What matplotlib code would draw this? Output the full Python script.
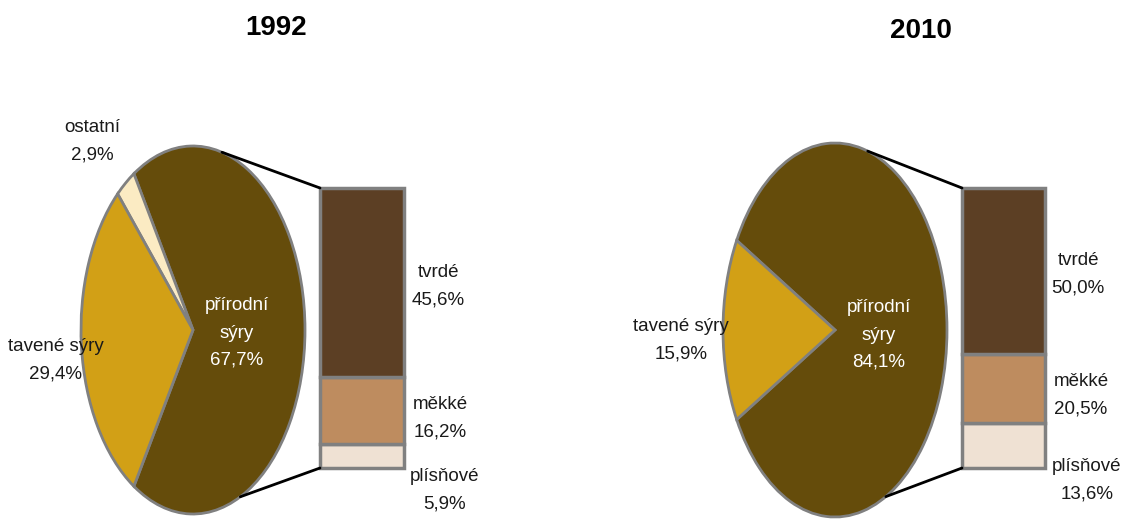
import numpy as np
import matplotlib
matplotlib.use("Agg")
import matplotlib.pyplot as plt
from matplotlib.patches import ConnectionPatch

plt.rcParams['font.family'] = ['Liberation Sans', 'DejaVu Sans']

# pie shares (%) - first slice is the one split into the bar
years = ["1992", "2010"]
pie_labels_1992 = ["přírodní\nsýry", "ostatní", "tavené sýry"]
pie_values_1992 = [67.7, 2.9, 29.4]
pie_labels_2010 = ["přírodní\nsýry", "tavené sýry"]
pie_values_2010 = [84.1, 15.9]

# breakdown of natural cheese (bottom to top of the bar)
bar_labels = ["plísňové", "měkké", "tvrdé"]
bar_values_1992 = [5.9, 16.2, 45.6]
bar_values_2010 = [13.6, 20.5, 50.0]

pie_colors_1992 = ["#654c0b", "#fbebc3", "#d2a016"]
pie_colors_2010 = ["#654c0b", "#d2a016"]
bar_colors = ["#efe1d3", "#be8c5f", "#5c3f24"]
edge = "#808080"

W, H = 1125, 520
fig = plt.figure(figsize=(W / 100, H / 100), dpi=100)


def fx(x):
    return x / W


def fy(y):
    return 1 - y / H


def pct(v):
    return f"{v:.1f}%".replace(".", ",")


def draw(cx, cy, rx, ry, bar_box, pie_vals, pie_labs, pie_cols, bar_vals,
         ang_top, ang_bot, pie_text_pos, bar_text_pos, title, title_pos):
    pad = 1.1
    ax = fig.add_axes([fx(cx - rx * pad), fy(cy + ry * pad),
                       2 * rx * pad / W, 2 * ry * pad / H])
    start = -pie_vals[0] / 100 * 360 / 2
    wedges, _ = ax.pie(pie_vals, colors=pie_cols, startangle=start,
                       counterclock=True, radius=1,
                       wedgeprops=dict(edgecolor=edge, linewidth=2))
    ax.set_aspect('auto')
    ax.set_xlim(-pad, pad)
    ax.set_ylim(-pad, pad)
    ax.axis('off')

    x0, y0, x1, y1 = bar_box
    bx = fig.add_axes([fx(x0), fy(y1), (x1 - x0) / W, (y1 - y0) / H])
    bottom = 0
    for v, c in zip(bar_vals, bar_colors):
        bx.bar(0, v, width=1, bottom=bottom, align='edge', color=c,
               edgecolor=edge, linewidth=2.5, clip_on=False)
        bottom += v
    bx.set_xlim(0, 1)
    bx.set_ylim(0, bottom)
    bx.axis('off')

    # series lines from the pie edge to the bar corners
    for ang, yb in [(ang_top, bottom), (ang_bot, 0)]:
        a = np.deg2rad(ang)
        con = ConnectionPatch(xyA=(np.cos(a), np.sin(a)), coordsA=ax.transData,
                              xyB=(0, yb), coordsB=bx.transData,
                              color="black", linewidth=2)
        fig.add_artist(con)

    for i, (lab, v) in enumerate(zip(pie_labs, pie_vals)):
        x, y = pie_text_pos[i]
        col = "white" if i == 0 else "#1a1a1a"
        fig.text(fx(x), fy(y), f"{lab}\n{pct(v)}", ha='center', va='center',
                 fontsize=13.5, color=col, linespacing=1.8)
    for i, (lab, v) in enumerate(zip(bar_labels, bar_vals)):
        x, y = bar_text_pos[i]
        fig.text(fx(x), fy(y), f"{lab}\n{pct(v)}", ha='center', va='center',
                 fontsize=13.5, color="#1a1a1a", linespacing=1.8)

    fig.text(fx(title_pos[0]), fy(title_pos[1]), title, ha='center',
             va='center', fontsize=20, fontweight='bold')


draw(193, 330, 112, 184, (320, 188, 404, 468),
     pie_values_1992, pie_labels_1992, pie_colors_1992, bar_values_1992,
     75, -65,
     [(237, 333), (92, 141), (56, 360)],
     [(445, 490), (440, 418), (438, 286)],
     years[0], (276, 28))

draw(835, 330, 112, 187, (962, 188, 1045, 468),
     pie_values_2010, pie_labels_2010, pie_colors_2010, bar_values_2010,
     73, -63,
     [(879, 335), (681, 340)],
     [(1087, 480), (1081, 395), (1078, 274)],
     years[1], (921, 31))

fig.savefig("out.png", dpi=100)
